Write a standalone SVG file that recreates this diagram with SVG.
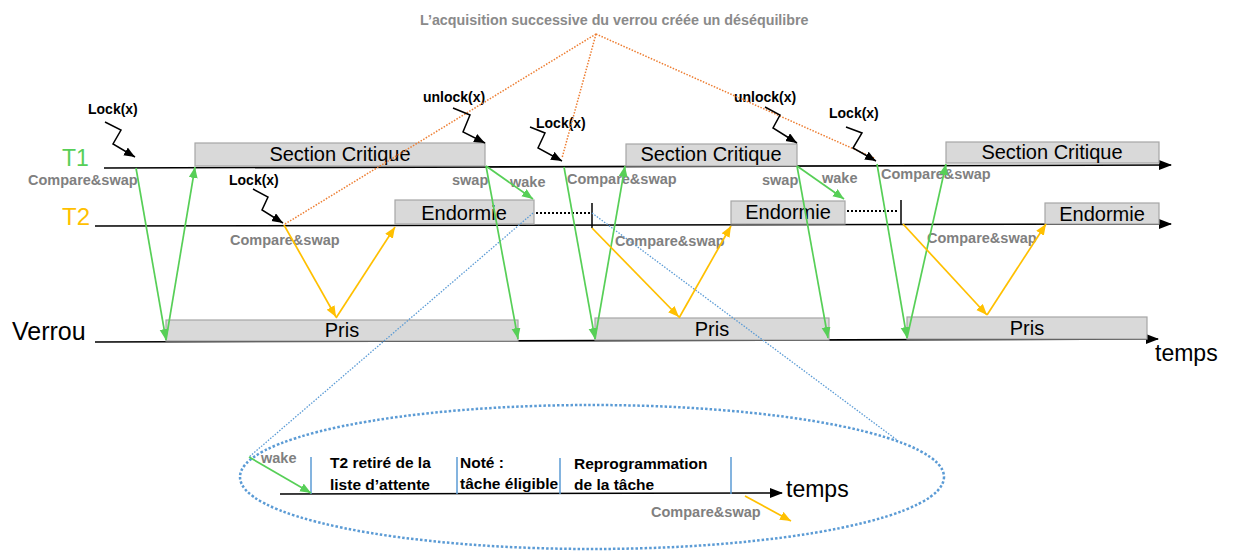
<svg xmlns="http://www.w3.org/2000/svg" width="1234" height="552" viewBox="0 0 1234 552">
  <defs>
    <style>
      text { font-family: "Liberation Sans", Arial, sans-serif; }
      .axis { stroke: #000; stroke-width: 1.6; fill: none; }
      .box { fill: #d9d9d9; stroke: #a6a6a6; stroke-width: 1.2; }
      .boxtxt { font-size: 20px; fill: #000; text-anchor: middle; }
      .cas { font-size: 14.5px; font-weight: bold; fill: #808080; }
      .call { font-size: 14px; font-weight: bold; fill: #000; }
      .zig { stroke: #000; stroke-width: 1.5; fill: none; marker-end: url(#headK); }
      .grn { stroke: #57cf57; stroke-width: 1.7; fill: none; marker-end: url(#headG); }
      .ylw { stroke: #ffc000; stroke-width: 1.7; fill: none; marker-end: url(#headY); }
      .org { stroke: #ed7d31; stroke-width: 1.5; stroke-dasharray: 1.5 1.5; fill: none; }
      .blu { stroke: #5b9bd5; stroke-width: 1.3; stroke-dasharray: 1.5 1.5; fill: none; }
      .sep { stroke: #5b9bd5; stroke-width: 1.5; }
      .dots { stroke: #000; stroke-width: 2; stroke-dasharray: 2 2; }
      .tick { stroke: #000; stroke-width: 1.5; }
      .inner { font-size: 15.5px; font-weight: bold; fill: #000; }
    </style>
    <marker id="headK" markerUnits="userSpaceOnUse" markerWidth="12" markerHeight="10" refX="11" refY="4.5" orient="auto">
      <path d="M0,0 L11,4.5 L0,9 z" fill="#000"/>
    </marker>
    <marker id="headG" markerUnits="userSpaceOnUse" markerWidth="12" markerHeight="10" refX="11" refY="4.5" orient="auto">
      <path d="M0,0 L11,4.5 L0,9 z" fill="#57cf57"/>
    </marker>
    <marker id="headY" markerUnits="userSpaceOnUse" markerWidth="12" markerHeight="10" refX="11" refY="4.5" orient="auto">
      <path d="M0,0 L11,4.5 L0,9 z" fill="#ffc000"/>
    </marker>
    <marker id="headAxis" markerUnits="userSpaceOnUse" markerWidth="14" markerHeight="12" refX="12" refY="5" orient="auto">
      <path d="M0,0 L13,5 L0,10 z" fill="#000"/>
    </marker>
  </defs>

  <rect width="1234" height="552" fill="#fff"/>

  <!-- title -->
  <text x="420" y="25" font-size="14.3px" font-weight="bold" fill="#8a8a8a">L’acquisition successive du verrou créée un déséquilibre</text>

  <!-- time axes -->
  <g id="timelines">
    <line class="axis" x1="104" y1="168" x2="1171" y2="165" marker-end="url(#headAxis)"/>
    <line class="axis" x1="95" y1="226" x2="1171" y2="224" marker-end="url(#headAxis)"/>
    <line class="axis" x1="95" y1="342" x2="1158" y2="339" marker-end="url(#headAxis)"/>
    <text x="62" y="166" font-size="23px" fill="#57cf57">T1</text>
    <text x="62" y="225" font-size="24px" fill="#ffc000">T2</text>
    <text x="12" y="340" font-size="25px" fill="#000">Verrou</text>
    <text x="1155" y="361" font-size="23px" fill="#000">temps</text>
  </g>

  <!-- T1 critical sections -->
  <g id="sc1"><rect class="box" x="195" y="143" width="290" height="23"/><text class="boxtxt" x="340" y="161">Section Critique</text></g>
  <g id="sc2"><rect class="box" x="626" y="144" width="171" height="22"/><text class="boxtxt" x="711" y="161">Section Critique</text></g>
  <g id="sc3"><rect class="box" x="946" y="142" width="213" height="21"/><text class="boxtxt" x="1052" y="159">Section Critique</text></g>

  <!-- T2 sleeping phases -->
  <g id="sleep1">
    <rect class="box" x="395" y="200" width="139" height="24"/><text class="boxtxt" x="464" y="220">Endormie</text>
    <line class="dots" x1="536" y1="213" x2="590" y2="213"/>
    <line class="tick" x1="592" y1="203" x2="592" y2="228"/>
  </g>
  <g id="sleep2">
    <rect class="box" x="731" y="201" width="114" height="23"/><text class="boxtxt" x="788" y="219">Endormie</text>
    <line class="dots" x1="847" y1="211" x2="899" y2="211"/>
    <line class="tick" x1="901" y1="200" x2="901" y2="225"/>
  </g>
  <g id="sleep3"><rect class="box" x="1045" y="203" width="114" height="21"/><text class="boxtxt" x="1102" y="221">Endormie</text></g>

  <!-- lock held -->
  <g id="held1"><rect class="box" x="166" y="320" width="352" height="21"/><text class="boxtxt" x="342" y="337">Pris</text></g>
  <g id="held2"><rect class="box" x="595" y="318" width="234" height="22"/><text class="boxtxt" x="712" y="336">Pris</text></g>
  <g id="held3"><rect class="box" x="907" y="317" width="240" height="22"/><text class="boxtxt" x="1027" y="335">Pris</text></g>

  <!-- calls -->
  <g id="calls">
    <text class="call" x="88" y="114">Lock(x)</text>
    <text class="call" x="229" y="185">Lock(x)</text>
    <text class="call" x="423" y="102">unlock(x)</text>
    <text class="call" x="536" y="128">Lock(x)</text>
    <text class="call" x="734" y="102">unlock(x)</text>
    <text class="call" x="829" y="118">Lock(x)</text>
  </g>

  <!-- operation labels -->
  <g id="oplabels">
    <text class="cas" x="28" y="185">Compare&amp;swap</text>
    <text class="cas" x="230" y="245">Compare&amp;swap</text>
    <text class="cas" x="452" y="185">swap</text>
    <text class="cas" x="510" y="187">wake</text>
    <text class="cas" x="567" y="184">Compare&amp;swap</text>
    <text class="cas" x="615" y="246">Compare&amp;swap</text>
    <text class="cas" x="762" y="185">swap</text>
    <text class="cas" x="822" y="183">wake</text>
    <text class="cas" x="881" y="179">Compare&amp;swap</text>
    <text class="cas" x="927" y="243">Compare&amp;swap</text>
  </g>

  <!-- connectors -->
  <g id="connectors">
    <!-- annotation leaders -->
    <line class="org" x1="596" y1="34" x2="285" y2="224"/>
    <line class="org" x1="596" y1="34" x2="562" y2="158"/>
    <line class="org" x1="596" y1="34" x2="874" y2="158"/>
    <line class="blu" x1="533" y1="213" x2="249" y2="457"/>
    <line class="blu" x1="592" y1="213" x2="897" y2="440"/>

    <!-- call arrows -->
    <polyline class="zig" points="105,122 121,130 113,144 135,157"/>
    <polyline class="zig" points="253,189 268,197 262,210 283,223"/>
    <polyline class="zig" points="453,108 470,115 463,132 485,143"/>
    <polyline class="zig" points="530,127 545,133 538,148 562,161"/>
    <polyline class="zig" points="765,107 780,115 773,128 797,143"/>
    <polyline class="zig" points="846,127 862,133 853,148 876,161"/>

    <!-- T1 exchanges -->
    <line class="grn" x1="136" y1="168" x2="166" y2="340"/>
    <line class="grn" x1="166" y1="340" x2="195" y2="167"/>
    <line class="grn" x1="486" y1="166" x2="518" y2="339"/>
    <line class="grn" x1="486" y1="166" x2="533" y2="199"/>
    <line class="grn" x1="564" y1="167" x2="595" y2="339"/>
    <line class="grn" x1="595" y1="339" x2="625" y2="166"/>
    <line class="grn" x1="797" y1="166" x2="828" y2="338"/>
    <line class="grn" x1="797" y1="166" x2="844" y2="199"/>
    <line class="grn" x1="877" y1="164" x2="907" y2="338"/>
    <line class="grn" x1="907" y1="338" x2="946" y2="164"/>

    <!-- T2 exchanges -->
    <line class="ylw" x1="284" y1="225" x2="336" y2="317"/>
    <line class="ylw" x1="336" y1="318" x2="395" y2="227"/>
    <line class="ylw" x1="592" y1="228" x2="679" y2="317"/>
    <line class="ylw" x1="679" y1="318" x2="731" y2="226"/>
    <line class="ylw" x1="903" y1="224" x2="987" y2="315"/>
    <line class="ylw" x1="987" y1="315" x2="1046" y2="224"/>
  </g>

  <!-- detail of the wake-up -->
  <g id="detail">
    <ellipse cx="592" cy="477" rx="352" ry="72" fill="none" stroke="#5b9bd5" stroke-width="2.5" stroke-dasharray="2.5 2"/>
    <line class="axis" x1="280" y1="494" x2="782" y2="493" marker-end="url(#headAxis)"/>
    <text x="786" y="497" font-size="23px" fill="#000">temps</text>
    <line class="sep" x1="311" y1="457" x2="311" y2="494"/>
    <line class="sep" x1="457" y1="457" x2="457" y2="494"/>
    <line class="sep" x1="560" y1="458" x2="560" y2="494"/>
    <line class="sep" x1="731" y1="457" x2="731" y2="494"/>
    <line class="grn" x1="249" y1="457" x2="311" y2="493"/>
    <text class="cas" x="261" y="463">wake</text>
    <text class="inner" x="330" y="468">T2 retiré de la</text>
    <text class="inner" x="330" y="490">liste d’attente</text>
    <text class="inner" x="460" y="468">Noté :</text>
    <text class="inner" x="460" y="489">tâche éligible</text>
    <text class="inner" x="574" y="469">Reprogrammation</text>
    <text class="inner" x="574" y="490">de la tâche</text>
    <line class="ylw" x1="745" y1="496" x2="791" y2="521"/>
    <text class="cas" x="651" y="517">Compare&amp;swap</text>
  </g>
</svg>
